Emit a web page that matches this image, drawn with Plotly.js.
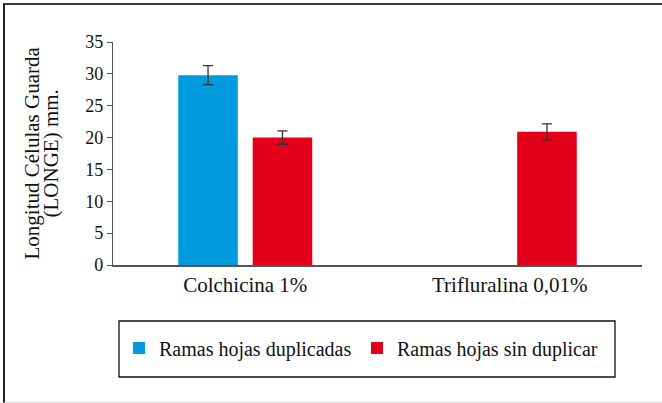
<!DOCTYPE html>
<html>
<head>
<meta charset="utf-8">
<script src="https://cdn.plot.ly/plotly-3.0.1.min.js"></script>
<style>
  html, body { margin: 0; padding: 0; background: #fff; }
  #wrap { position: relative; width: 662px; height: 403px; overflow: hidden; }
  #chart { position: absolute; left: 0; top: 0; width: 662px; height: 403px; }
  #frame { position: absolute; left: 3px; top: 3px; width: 680px; height: 397px;
           border-top: 2px solid #3a3a3a; border-left: 2px solid #222; border-bottom: 1px solid #dcdcdc;
           pointer-events: none; }
</style>
</head>
<body>
<div id="wrap">
  <div id="chart"></div>
  <div id="frame"></div>
</div>
<script>
var categories = ['Colchicina 1%', 'Trifluralina 0,01%'];
var seriesNames = ['Ramas hojas duplicadas', 'Ramas hojas sin duplicar'];
var duplicadas = [29.8, null];
var sinDuplicar = [20.0, 20.9];
var errDuplicadas = [1.5, null];
var errSinDuplicar = [1.05, 1.25];
var yTickValues = [0, 5, 10, 15, 20, 25, 30, 35];
var yTitleLines = ['Longitud Células Guarda', '(LONGE) mm.'];

var serif = '"Liberation Serif", "Times New Roman", serif';

var traces = [
  {
    type: 'bar', name: seriesNames[0], x: categories, y: duplicadas,
    marker: { color: '#009BDE' },
    error_y: { type: 'data', array: errDuplicadas, visible: true, color: '#333', thickness: 1.3, width: 5 },
    legend: 'legend'
  },
  {
    type: 'bar', name: seriesNames[1], x: categories, y: sinDuplicar,
    marker: { color: '#E2001A' },
    error_y: { type: 'data', array: errSinDuplicar, visible: true, color: '#333', thickness: 1.3, width: 5 },
    legend: 'legend2'
  }
];

var L = 113, R = 642, T = 42, B = 265;
var pw = R - L, ph = B - T;
function px(x) { return (x - L) / pw; }
function py(y) { return (B - y) / ph; }

var layout = {
  width: 662, height: 403,
  margin: { l: L, r: 662 - R, t: T, b: 403 - B },
  paper_bgcolor: '#fff', plot_bgcolor: '#fff',
  font: { family: serif, color: '#111' },
  barmode: 'group', bargap: 0.437, bargroupgap: 0.2,
  xaxis: {
    type: 'category', showline: true, linecolor: '#555', linewidth: 1.5,
    ticks: '', showgrid: false, zeroline: false,
    tickfont: { family: serif, size: 21, color: '#111' }
  },
  yaxis: {
    range: [0, 35], tickvals: yTickValues, showline: true, linecolor: '#555', linewidth: 1.2,
    ticks: 'outside', ticklen: 5, tickcolor: '#555', showgrid: false, zeroline: false,
    tickfont: { family: serif, size: 18, color: '#111' }
  },
  annotations: [
    { text: yTitleLines[0], xref: 'paper', yref: 'paper', x: px(31), y: 0.5, textangle: -90,
      showarrow: false, xanchor: 'center', yanchor: 'middle', font: { family: serif, size: 21, color: '#111' } },
    { text: yTitleLines[1], xref: 'paper', yref: 'paper', x: px(50), y: 0.5, textangle: -90,
      showarrow: false, xanchor: 'center', yanchor: 'middle', font: { family: serif, size: 21, color: '#111' } }
  ],
  shapes: [
    { type: 'rect', xref: 'paper', yref: 'paper', x0: px(119), x1: px(615), y0: py(377), y1: py(321),
      line: { color: '#111', width: 1.3 }, fillcolor: 'rgba(0,0,0,0)' }
  ],
  legend: { x: px(119), y: py(348), xanchor: 'left', yanchor: 'middle', orientation: 'h',
    bgcolor: 'rgba(0,0,0,0)', borderwidth: 0, font: { family: serif, size: 20, color: '#111' } },
  legend2: { x: px(357), y: py(348), xanchor: 'left', yanchor: 'middle', orientation: 'h',
    bgcolor: 'rgba(0,0,0,0)', borderwidth: 0, font: { family: serif, size: 20, color: '#111' } },
  showlegend: true
};

Plotly.newPlot('chart', traces, layout, { displayModeBar: false, staticPlot: true });
</script>
</body>
</html>
